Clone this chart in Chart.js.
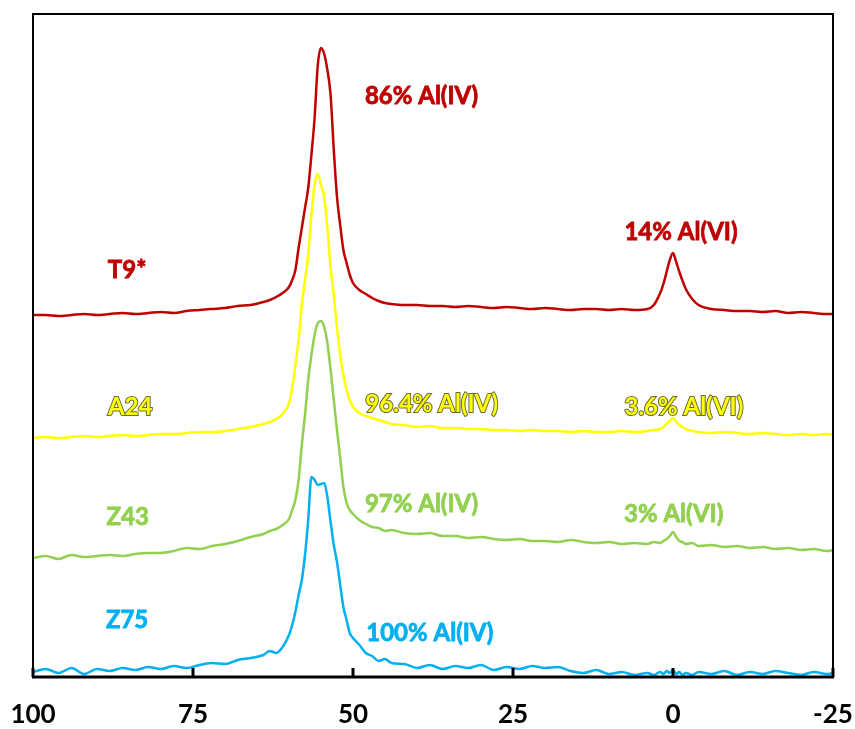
<!DOCTYPE html>
<html>
<head>
<meta charset="utf-8">
<script src="https://cdn.jsdelivr.net/npm/chart.js@4/dist/chart.umd.min.js"></script>
<style>
  html, body { margin: 0; padding: 0; background: #fff; }
  #wrap { width: 855px; height: 729px; }
</style>
</head>
<body>
<div id="wrap"><canvas id="nmrChart"></canvas></div>
<script>
// chemical shift (ppm) grid shared by all spectra
const shifts = [
  100, 98, 96, 94, 92, 90, 88, 86, 84, 82, 80, 78, 76, 74, 72, 70, 68, 66,
  64, 63, 62, 61, 60,
  59.5, 59, 58.5, 58, 57.5, 57, 56.5, 56, 55.5, 55, 54.5, 54, 53.5, 53, 52.5, 52, 51.5, 51, 50.5, 50,
  49, 48, 47, 46, 45, 44,
  42, 40, 38, 36, 34, 32, 30, 28, 26, 24, 22, 20, 18, 16, 14, 12, 10, 8, 6,
  4, 3, 2, 1.5, 1, 0.5, 0, -0.5, -1, -1.5, -2, -3, -4,
  -6, -8, -10, -12, -14, -16, -18, -20, -22, -24, -25
];

// stacked intensities (offset already included), same order as shifts
const t9 = [
  362, 362, 361, 362, 363, 362, 363, 364, 363, 364, 365, 364, 366, 367, 368, 369, 371, 372,
  375, 377, 380, 384, 390,
  397, 407, 429, 449, 469, 489, 522, 559, 612, 629, 623, 607, 582, 527, 480, 452, 427, 414, 402, 394,
  387, 383, 379, 376, 374, 373,
  372, 372, 371, 371, 370, 371, 370, 369, 370, 369, 368, 369, 368, 367, 368, 368, 367, 368, 367,
  368, 372, 384, 393, 405, 417, 424, 415, 405, 396, 388, 378, 372,
  368, 367, 366, 366, 365, 366, 364, 365, 364, 363, 363
];
const a24 = [
  239, 240, 239, 240, 241, 240, 241, 242, 241, 242, 243, 243, 244, 245, 245, 246, 248, 250,
  253, 255, 258, 263, 274,
  289, 312, 337, 372, 397, 422, 462, 492, 503, 492, 480, 449, 409, 382, 349, 322, 302, 287, 277, 270,
  264, 261, 259, 257, 255, 253,
  252, 250, 251, 249, 249, 248, 248, 247, 247, 246, 247, 246, 246, 245, 246, 245, 245, 246, 245,
  246, 247, 248, 250, 253, 256, 259, 255, 252, 250, 248, 246, 245,
  244, 245, 244, 243, 244, 243, 242, 243, 242, 243, 242
];
const z43 = [
  119, 121, 118, 122, 120, 121, 122, 121, 123, 124, 124, 126, 129, 128, 131, 133, 136, 140,
  143, 146, 148, 152, 158,
  167, 177, 197, 232, 262, 297, 322, 342, 354, 356, 350, 334, 307, 277, 247, 219, 190, 174, 167, 163,
  157, 153, 150, 149, 146, 147,
  144, 143, 144, 141, 141, 139, 140, 138, 137, 138, 136, 136, 135, 137, 135, 134, 135, 133, 134,
  133, 135, 134, 136, 138, 141, 145, 140, 136, 135, 133, 134, 131,
  132, 130, 131, 129, 130, 128, 129, 127, 128, 126, 127
];
const z75 = [
  5, 8, 4, 9, 3, 8, 6, 9, 7, 10, 8, 11, 9, 12, 14, 13, 17, 19,
  22, 26, 24, 30, 42,
  52, 65, 82, 97, 122, 157, 200, 197, 192, 193, 194, 180, 155, 132, 115, 92, 70, 57, 44, 39,
  32, 24, 21, 16, 18, 14,
  13, 9, 12, 8, 11, 9, 12, 7, 10, 8, 11, 9, 10, 6, 4, 7, 3, 5, 2,
  4, 2, 5, 3, 6, 4, 7, 3, 5, 2, 4, 2, 5,
  3, 6, 2, 5, 3, 6, 4, 2, 5, 3, 4
];

const sampleNames = ['T9*', 'A24', 'Z43', 'Z75'];
const sampleColors = ['#C00000', '#FFFF00', '#92D050', '#00B0F0'];
const tetraLabels = ['86% Al(IV)', '96.4% Al(IV)', '97% Al(IV)', '100% Al(IV)'];
const octaLabels = ['14% Al(VI)', '3.6% Al(VI)', '3% Al(VI)', ''];

const series = [t9, a24, z43, z75];

// where the annotations sit, in chart units (ppm, intensity)
const namePos = [[85.3, 407], [84.8, 270], [85.2, 160], [85.3, 57]];
const tetraPos = [[39.3, 581], [37.7, 273], [39.3, 173], [38.0, 44]];
const octaPos = [[-1.25, 445], [-1.7, 270], [-0.1, 163]];

const annotate = {
  id: 'annotate',
  afterDatasetsDraw(chart) {
    const { ctx, scales: { x, y } } = chart;
    ctx.save();
    ctx.font = 'bold 24px "Lato"';
    ctx.textAlign = 'center';
    ctx.textBaseline = 'middle';
    const put = (txt, pos, i) => {
      if (!txt) return;
      const px = x.getPixelForValue(pos[0]);
      const py = y.getPixelForValue(pos[1]);
      ctx.fillStyle = sampleColors[i];
      if (i === 1) {
        ctx.lineWidth = 2;
        ctx.strokeStyle = '#6b6b3a';
        ctx.strokeText(txt, px, py);
      } else {
        // a thin same-colour stroke to thicken the glyphs a little
        ctx.lineWidth = 0.8;
        ctx.strokeStyle = sampleColors[i];
        ctx.strokeText(txt, px, py);
      }
      ctx.fillText(txt, px, py);
    };
    sampleNames.forEach((n, i) => put(n, namePos[i], i));
    tetraLabels.forEach((n, i) => put(n, tetraPos[i], i));
    octaLabels.forEach((n, i) => put(n, octaPos[i], i));
    ctx.restore();
  }
};

const frame = {
  id: 'frame',
  afterDraw(chart) {
    const { ctx, chartArea: a, scales: { x } } = chart;
    ctx.save();
    ctx.strokeStyle = '#000';
    ctx.lineWidth = 2;
    ctx.strokeRect(a.left, a.top, a.right - a.left, a.bottom - a.top);
    ctx.lineWidth = 3;
    ctx.beginPath();
    ctx.moveTo(a.left - 1, a.bottom);
    ctx.lineTo(a.right + 1, a.bottom);
    x.ticks.forEach(t => {
      const px = x.getPixelForValue(t.value);
      ctx.moveTo(px, a.bottom);
      ctx.lineTo(px, a.bottom - 9);
    });
    ctx.stroke();
    ctx.restore();
  }
};

const ctx = document.getElementById('nmrChart').getContext('2d');
new Chart(ctx, {
  type: 'line',
  data: {
    datasets: series.map((vals, i) => ({
      label: sampleNames[i],
      data: shifts.map((s, k) => ({ x: s, y: vals[k] })),
      borderColor: sampleColors[i],
      borderWidth: 2.5,
      pointRadius: 0,
      cubicInterpolationMode: 'monotone',
      fill: false
    }))
  },
  options: {
    responsive: true,
    maintainAspectRatio: false,
    animation: false,
    layout: { padding: { left: 33, right: 22, top: 14, bottom: 1 } },
    plugins: {
      legend: { display: false },
      tooltip: { enabled: false }
    },
    scales: {
      x: {
        type: 'linear',
        reverse: true,
        min: -25,
        max: 100,
        afterFit: (scale) => {
          scale.height = 51;
          scale.paddingLeft = 0;
          scale.paddingRight = 0;
        },
        ticks: {
          stepSize: 25,
          color: '#000',
          padding: 25,
          maxRotation: 0,
          font: { family: 'Lato', weight: 'bold', size: 26, lineHeight: 1 }
        },
        grid: { display: false, drawTicks: false },
        border: { display: false }
      },
      y: {
        display: false,
        min: 0,
        max: 663
      }
    }
  },
  plugins: [annotate, frame]
});
</script>
</body>
</html>
